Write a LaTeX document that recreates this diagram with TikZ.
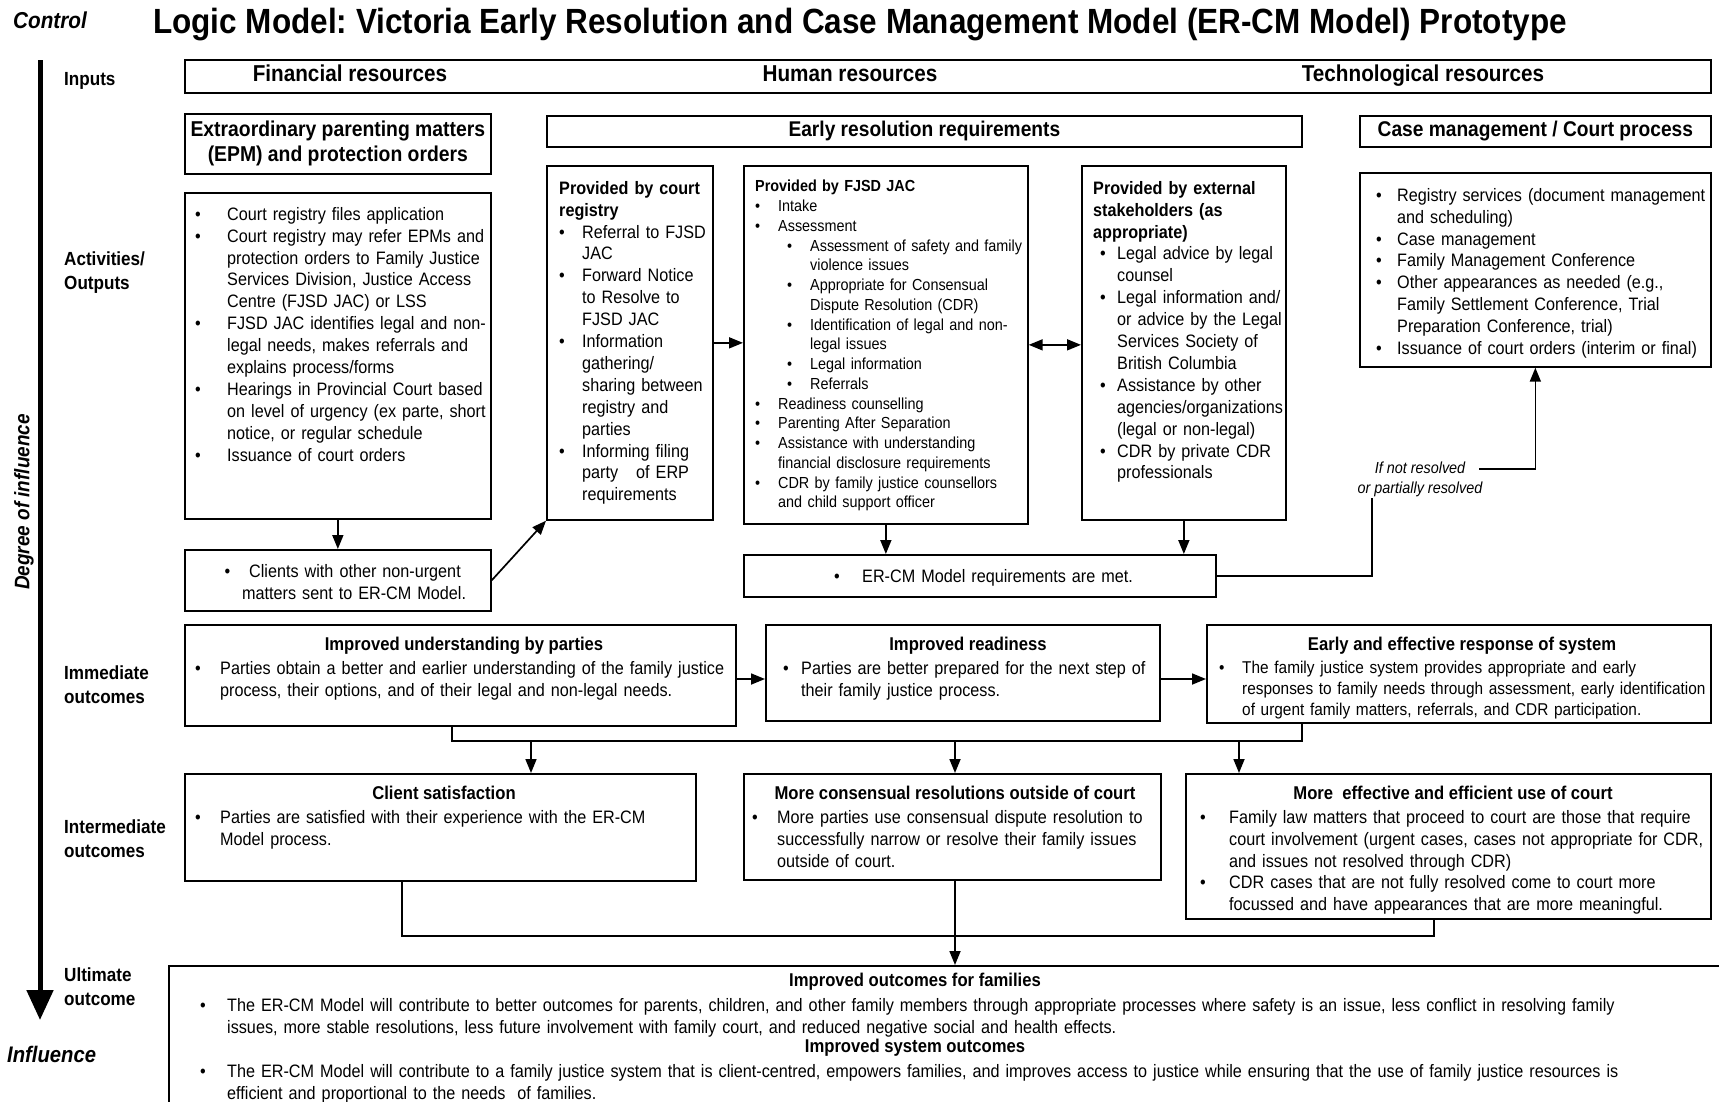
\documentclass[tikz,border=0pt]{standalone}
\usepackage{fontspec}
\setmainfont{Liberation Sans}[FakeStretch=0.9]
\usetikzlibrary{arrows.meta}
\newcommand\bitem[3]{\noindent\hangindent=#2\hangafter=1\makebox[#2][l]{\hspace*{#1}\textbullet}#3\par}
\frenchspacing
\hyphenpenalty=10000
\exhyphenpenalty=10000
\tikzset{
  box/.style={draw, line width=1.7pt, inner sep=0pt, anchor=north west},
  tx/.style={inner sep=0pt, anchor=north west, align=left, font=\fontsize{18}{21.9}\selectfont},
  txs/.style={tx, font=\fontsize{16}{19.75}\selectfont},
  hd/.style={inner sep=0pt, text height=15.5pt, text depth=4.5pt, font=\bfseries\fontsize{21.3}{25}\selectfont},
  hin/.style={inner sep=0pt, text height=16.5pt, text depth=5pt, font=\bfseries\fontsize{23}{27}\selectfont},
  hb/.style={inner sep=0pt, text height=13.5pt, text depth=4pt, font=\bfseries\fontsize{18.5}{22}\selectfont},
  side/.style={inner sep=0pt, anchor=north west, align=left, font=\bfseries\fontsize{19}{23.5}\selectfont},
  ln/.style={line width=1.7pt},
  arr/.style={line width=1.7pt, -{Triangle[length=14pt,width=11pt]}},
}
\begin{document}
\begin{tikzpicture}[x=1pt, y=-1pt]
\useasboundingbox (0,0) rectangle (1719,1101);

% title and side
\node[font=\bfseries\fontsize{35}{40}\selectfont] (title) at (860,25) {Logic Model: Victoria Early Resolution and Case Management Model (ER-CM Model) Prototype};
\node[anchor=west, inner sep=0pt, font=\bfseries\itshape\fontsize{23}{26}\selectfont] (ctl) at (13,20) {Control};
\node[anchor=west, inner sep=0pt, font=\bfseries\itshape\fontsize{22.5}{26}\selectfont] (infl) at (7,1054) {Influence};
\node[rotate=90, inner sep=0pt, font=\bfseries\itshape\fontsize{21}{24}\selectfont] (deg) at (24,502) {Degree of influence};
\coordinate (aTop) at (40,60);
\coordinate (aBot) at (40,1020);
\draw[line width=5pt, -{Triangle[length=30pt,width=26pt]}] (aTop) -- (aBot);

\node[side] (lInputs) at (64,72) {Inputs};
\node[side] (lAct) at (64,252) {Activities/\\Outputs};
\node[side] (lImm) at (64,666) {Immediate\\outcomes};
\node[side] (lInt) at (64,820) {Intermediate\\outcomes};
\node[side] (lUlt) at (64,968) {Ultimate\\outcome};

% inputs
\node[box, minimum width=1526, minimum height=33] (inputs) at (184,59) {};
\node[hin] (fin) at (350,76) {Financial resources};
\node[hin] (hum) at (850,76) {Human resources};
\node[hin] (tech) at (1423,76) {Technological resources};

% headers
\node[box, minimum width=306, minimum height=60] (epm) at (184,113) {};
\node[inner sep=0pt, align=center, font=\bfseries\fontsize{21.5}{25}\selectfont] (epmT) at (epm.center) {Extraordinary parenting matters\\(EPM) and protection orders};
\node[box, minimum width=755, minimum height=31] (erreq) at (546,115) {};
\node[hd] (erreqT) at (erreq.center) {Early resolution requirements};
\node[box, minimum width=351, minimum height=31] (cmh) at (1359,115) {};
\node[hd] (cmhT) at (cmh.center) {Case management / Court process};

% activities
\node[box, minimum width=306, minimum height=326] (act) at (184,192) {};
\node[tx, text width=300] (actT) at (195,207) {%
\bitem{0pt}{32pt}{Court registry files application}%
\bitem{0pt}{32pt}{Court registry may refer EPMs and\newline protection orders to Family Justice\newline Services Division, Justice Access\newline Centre (FJSD JAC) or LSS}%
\bitem{0pt}{32pt}{FJSD JAC identifies legal and non-\newline legal needs, makes referrals and\newline explains process/forms}%
\bitem{0pt}{32pt}{Hearings in Provincial Court based\newline on level of urgency (ex parte, short\newline notice, or regular schedule}%
\bitem{0pt}{32pt}{Issuance of court orders}};

\node[box, minimum width=306, minimum height=61] (clients) at (184,549) {};
\node[tx, text width=260] (cliT) at (242,564) {\noindent\hspace*{7pt}\llap{\textbullet\hspace{19pt}}Clients with other non-urgent\newline matters sent to ER-CM Model.};

\node[box, minimum width=166, minimum height=354] (reg) at (546,165) {};
\node[tx, text width=175] (regT) at (559,181) {\noindent\textbf{Provided by court\newline registry}\par
\bitem{0pt}{23pt}{Referral to FJSD\newline JAC}%
\bitem{0pt}{23pt}{Forward Notice\newline to Resolve to\newline FJSD JAC}%
\bitem{0pt}{23pt}{Information\newline gathering/\newline sharing between\newline registry and\newline parties}%
\bitem{0pt}{23pt}{Informing filing\newline party\ \ \ of ERP\newline requirements}};

\node[box, minimum width=284, minimum height=358] (fjsd) at (743,165) {};
\node[txs, text width=290] (fjT) at (755,180) {\noindent\textbf{Provided by FJSD JAC}\par
\bitem{0pt}{23pt}{Intake}%
\bitem{0pt}{23pt}{Assessment}%
\bitem{32pt}{55pt}{Assessment of safety and family\newline violence issues}%
\bitem{32pt}{55pt}{Appropriate for Consensual\newline Dispute Resolution (CDR)}%
\bitem{32pt}{55pt}{Identification of legal and non-\newline legal issues}%
\bitem{32pt}{55pt}{Legal information}%
\bitem{32pt}{55pt}{Referrals}%
\bitem{0pt}{23pt}{Readiness counselling}%
\bitem{0pt}{23pt}{Parenting After Separation}%
\bitem{0pt}{23pt}{Assistance with understanding\newline financial disclosure requirements}%
\bitem{0pt}{23pt}{CDR by family justice counsellors\newline and child support officer}};

\node[box, minimum width=204, minimum height=354] (ext) at (1081,165) {};
\node[tx, text width=215] (extT) at (1093,181) {\noindent\textbf{Provided by external\newline stakeholders (as\newline appropriate)}\par
\bitem{7pt}{24pt}{Legal advice by legal\newline counsel}%
\bitem{7pt}{24pt}{Legal information and/\newline or advice by the Legal\newline Services Society of\newline British Columbia}%
\bitem{7pt}{24pt}{Assistance by other\newline agencies/organizations\newline (legal or non-legal)}%
\bitem{7pt}{24pt}{CDR by private CDR\newline professionals}};

\node[box, minimum width=351, minimum height=194] (cml) at (1359,172) {};
\node[tx, text width=360] (cmlT) at (1376,188) {%
\bitem{0pt}{21pt}{Registry services (document management\newline and scheduling)}%
\bitem{0pt}{21pt}{Case management}%
\bitem{0pt}{21pt}{Family Management Conference}%
\bitem{0pt}{21pt}{Other appearances as needed (e.g.,\newline Family Settlement Conference, Trial\newline Preparation Conference, trial)}%
\bitem{0pt}{21pt}{Issuance of court orders (interim or final)}};

\node[box, minimum width=472, minimum height=42] (met) at (743,554) {};
\node[tx, text width=360] (metT) at (834,569) {\bitem{0pt}{28pt}{ER-CM Model requirements are met.}};

\node[inner sep=0pt, align=center, font=\itshape\fontsize{16}{20}\selectfont] (lbl) at (1420,479) {If not resolved\\or partially resolved};

% activity connectors
\draw[arr] (act.south) -- (clients.north);
\draw[arr] (clients.east) -- (reg.south west);
\draw[arr] (reg.east) -- (reg.east -| fjsd.west);
\draw[line width=1.7pt, {Triangle[length=14pt,width=11pt]}-{Triangle[length=14pt,width=11pt]}] (fjsd.east) -- (fjsd.east -| ext.west);
\draw[arr] (fjsd.south) -- (fjsd.south |- met.north);
\draw[arr] (ext.south) -- (ext.south |- met.north);
\coordinate (k1) at (1372,498);
\coordinate (k2) at (1479,469);
\draw[ln] (met.east) -| (k1);
\draw[arr] (k2) -| (cml.south);

% immediate outcomes
\node[box, minimum width=551, minimum height=101] (im1) at (184,624) {};
\node[hb] (im1H) at (464,646) {Improved understanding by parties};
\node[tx, text width=545] (im1T) at (195,661) {\bitem{0pt}{25pt}{Parties obtain a better and earlier understanding of the family justice\newline process, their options, and of their legal and non-legal needs.}};

\node[box, minimum width=394, minimum height=96] (im2) at (765,624) {};
\node[hb] (im2H) at (968,646) {Improved readiness};
\node[tx, text width=390] (im2T) at (783,661) {\bitem{0pt}{18pt}{Parties are better prepared for the next step of\newline their family justice process.}};

\node[box, minimum width=504, minimum height=98] (im3) at (1206,624) {};
\node[hb] (im3H) at (1462,646) {Early and effective response of system};
\node[tx, text width=520, font=\fontsize{17.1}{20.9}\selectfont] (im3T) at (1219,661) {\bitem{0pt}{23pt}{The family justice system provides appropriate and early\newline responses to family needs through assessment, early identification\newline of urgent family matters, referrals, and CDR participation.}};

\coordinate (yim) at (0,679);
\draw[arr] (im1.east |- yim) -- (im2.west |- yim);
\draw[arr] (im2.east |- yim) -- (im3.west |- yim);

% intermediate outcomes
\node[box, minimum width=511, minimum height=107] (inA) at (184,773) {};
\node[hb] (inAH) at (444,795) {Client satisfaction};
\node[tx, text width=505] (inAT) at (195,810) {\bitem{0pt}{25pt}{Parties are satisfied with their experience with the ER-CM\newline Model process.}};

\node[box, minimum width=417, minimum height=106] (inB) at (743,773) {};
\node[hb] (inBH) at (955,795) {More consensual resolutions outside of court};
\node[tx, text width=415] (inBT) at (752,810) {\bitem{0pt}{25pt}{More parties use consensual dispute resolution to\newline successfully narrow or resolve their family issues\newline outside of court.}};

\node[box, minimum width=525, minimum height=145] (inC) at (1185,773) {};
\node[hb] (inCH) at (1453,795) {More\ \ effective and efficient use of court};
\node[tx, text width=530] (inCT) at (1200,810) {%
\bitem{0pt}{29pt}{Family law matters that proceed to court are those that require\newline court involvement (urgent cases, cases not appropriate for CDR,\newline and issues not resolved through CDR)}%
\bitem{0pt}{29pt}{CDR cases that are not fully resolved come to court more\newline focussed and have appearances that are more meaningful.}};

\coordinate (f1) at (452,741);
\coordinate (f2) at (1302,741);
\draw[ln] (im1.south -| f1) -- (f1) -- (f2) -- (im3.south -| f2);
\coordinate (d1) at (531,741);
\coordinate (d2) at (955,741);
\coordinate (d3) at (1239,741);
\draw[arr] (d1) -- (d1 |- inA.north);
\draw[arr] (d2) -- (d2 |- inB.north);
\draw[arr] (d3) -- (d3 |- inC.north);

% ultimate
\node[box, minimum width=1580, minimum height=160] (ult) at (168,965) {};
\node[hb] (ulH1) at (915,982) {Improved outcomes for families};
\node[tx, text width=1520] (ulT1) at (200,998) {\bitem{0pt}{27pt}{The ER-CM Model will contribute to better outcomes for parents, children, and other family members through appropriate processes where safety is an issue, less conflict in resolving family\newline issues, more stable resolutions, less future involvement with family court, and reduced negative social and health effects.}};
\node[hb] (ulH2) at (915,1048) {Improved system outcomes};
\node[tx, text width=1520] (ulT2) at (200,1064) {\bitem{0pt}{27pt}{The ER-CM Model will contribute to a family justice system that is client-centred, empowers families, and improves access to justice while ensuring that the use of family justice resources is\newline efficient and proportional to the needs\ \ of families.}};

\coordinate (g1) at (402,936);
\coordinate (g2) at (1434,936);
\coordinate (g3) at (955,936);
\draw[ln] (inA.south -| g1) -- (g1) -- (g2) -- (inC.south -| g2);
\draw[arr] (inB.south -| g3) -- (g3 |- ult.north);
\end{tikzpicture}
\end{document}
